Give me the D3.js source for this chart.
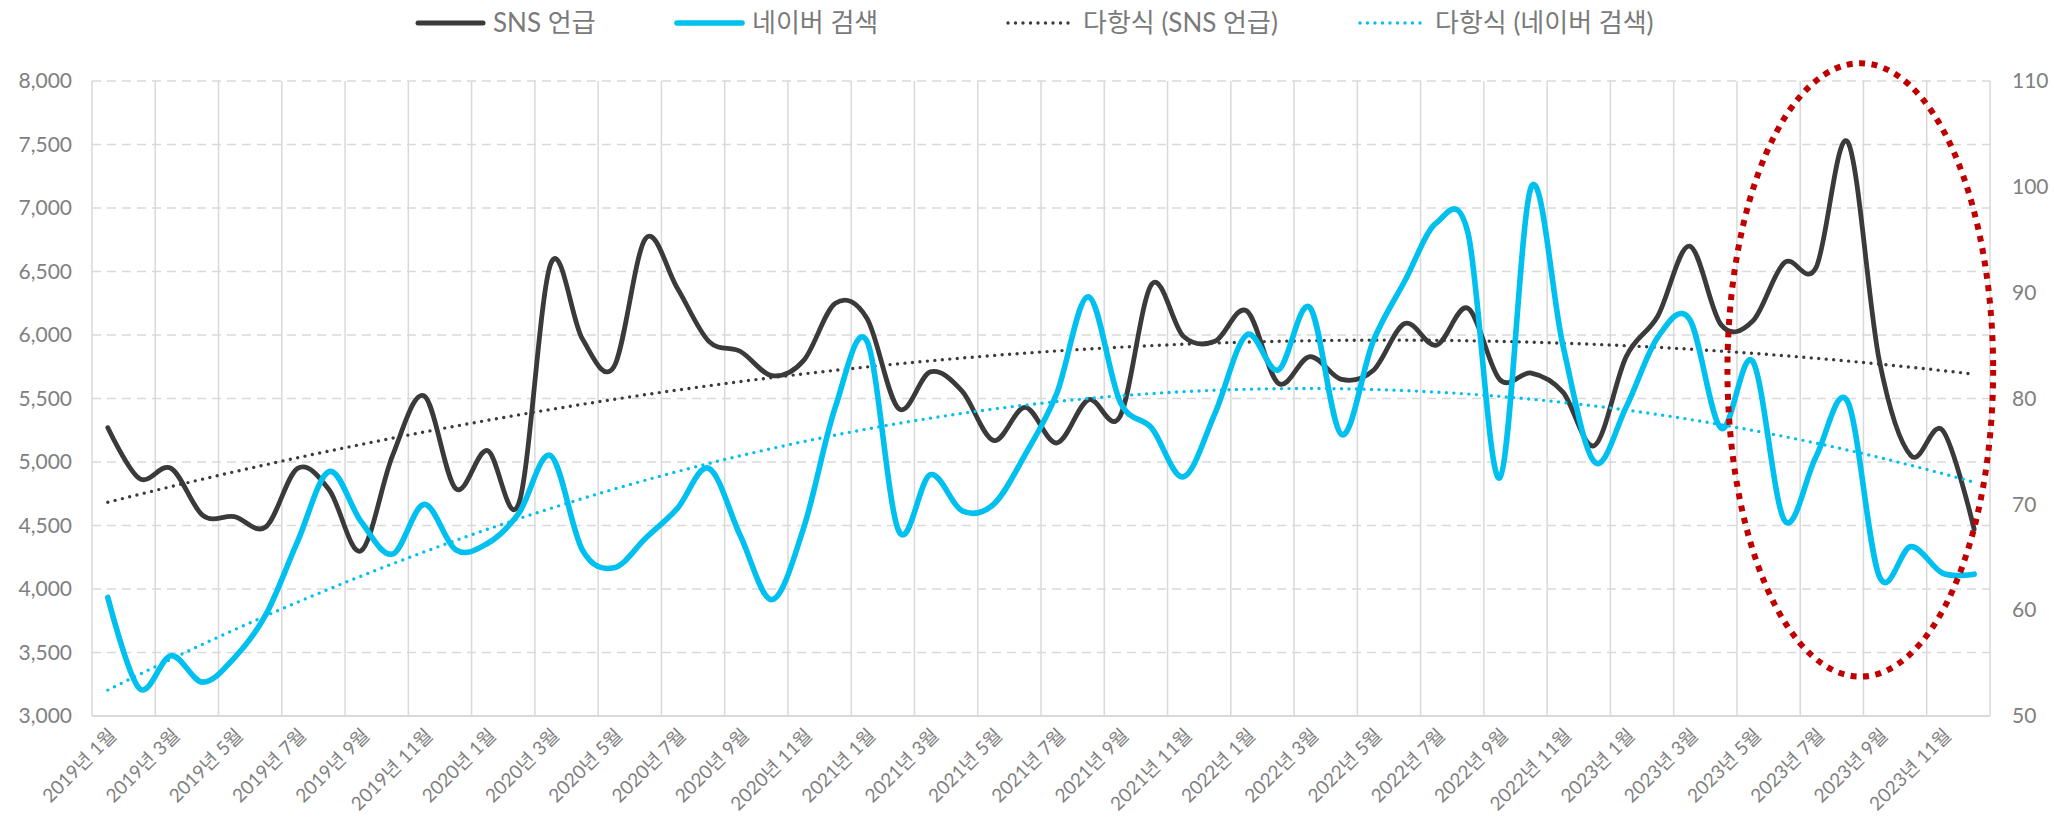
<!DOCTYPE html>
<html><head><meta charset="utf-8">
<script src="https://cdn.jsdelivr.net/npm/d3@7"></script>
<style>
body{margin:0;background:#fff}
svg{display:block;font-family:Lato,'Noto Sans CJK KR',sans-serif}
</style></head>
<body><svg id="c" width="2054" height="825"></svg>
<script>
// ---------- data ----------
const years = [2019, 2020, 2021, 2022, 2023];
const months = [1,2,3,4,5,6,7,8,9,10,11,12];
const categories = [];
years.forEach(y => months.forEach(m => categories.push(`${y}년 ${m}월`)));

const snsMentions = [5270,4870,4950,4580,4570,4490,4950,4780,4300,5050,
  5520,4790,5090,4680,6560,5970,5750,6760,6370,5950,
  5870,5680,5800,6250,6130,5420,5710,5560,5170,5430,
  5150,5490,5360,6400,5990,5950,6190,5620,5830,5650,
  5720,6090,5920,6210,5650,5700,5550,5130,5830,6150,
  6700,6080,6110,6570,6530,7520,5800,5050,5250,4470];

const naverSearch = [61.2,52.6,55.7,53.2,55.5,59.6,66.5,73.1,68.4,65.3,
  70.0,65.7,66.3,69.2,74.6,65.7,64.0,66.8,69.6,73.4,
  67.0,61.0,67.8,79.2,85.4,67.5,72.8,69.4,70.0,74.7,
  80.5,89.6,79.7,77.2,72.6,78.6,86.0,82.7,88.6,76.6,
  85.4,91.1,96.6,95.6,72.5,100.0,85.0,74.0,79.2,85.8,
  87.5,77.2,83.5,68.5,74.5,79.7,63.2,66.0,63.5,63.4];

const leftTicks = [3000,3500,4000,4500,5000,5500,6000,6500,7000,7500,8000];
const rightTicks = [50,60,70,80,90,100,110];
const seriesNames = ["SNS 언급", "네이버 검색", "다항식 (SNS 언급)", "다항식 (네이버 검색)"];
// annotation (highlight ellipse) in data space: category index span and left-axis value span
const highlightIdx = [51.2, 59.6];
const highlightVal = [3310, 8140];

// ---------- layout ----------
const L = 92, R = 1990, T = 81, B = 716;
const BLACK = "#3a3a3a", BLUE = "#00c0f0", GRID = "#d9d9d9", TXT = "#808080";

const svg = d3.select("#c");
svg.append("rect").attr("width",2054).attr("height",825).attr("fill","#fff");

const x = d3.scaleBand().domain(categories).range([L, R]).padding(0);
const bw = x.bandwidth();
const xc = d => x(d) + bw/2;
const xi = i => L + (i + 0.5) * bw;
const yL = d3.scaleLinear().domain([3000, 8000]).range([B, T]);
const yR = d3.scaleLinear().domain([50, 110]).range([B, T]);

// horizontal dashed gridlines
svg.append("g").selectAll("line").data(leftTicks.filter(d => d !== 3000)).join("line")
  .attr("x1", L).attr("x2", R).attr("y1", d => yL(d)).attr("y2", d => yL(d))
  .attr("stroke", GRID).attr("stroke-width", 1.5).attr("stroke-dasharray", "9 6");

// vertical gridlines every 2 categories
const vlines = categories.filter((d,i) => i % 2 === 0).map(d => x(d)).concat([R]);
svg.append("g").selectAll("line").data(vlines).join("line")
  .attr("x1", d => d).attr("x2", d => d).attr("y1", T).attr("y2", B)
  .attr("stroke", GRID).attr("stroke-width", 1.5);
// bottom axis line
svg.append("line").attr("x1", L).attr("x2", R).attr("y1", B).attr("y2", B)
  .attr("stroke", GRID).attr("stroke-width", 2);

// axes
const fmt = d3.format(",");
const gL = svg.append("g").attr("transform", `translate(${L},0)`)
  .call(d3.axisLeft(yL).tickValues(leftTicks).tickSize(0).tickPadding(20).tickFormat(fmt));
const gR = svg.append("g").attr("transform", `translate(${R},0)`)
  .call(d3.axisRight(yR).tickValues(rightTicks).tickSize(0).tickPadding(22));
const gX = svg.append("g").attr("transform", `translate(0,${B})`)
  .call(d3.axisBottom(x).tickValues(categories.filter((d,i) => i % 2 === 0)).tickSize(0));
[gL, gR, gX].forEach(g => {
  g.select(".domain").remove();
  g.selectAll("text").attr("fill", TXT).style("font-size", "21px")
    .style("font-family", "Lato,'Noto Sans CJK KR',sans-serif");
});
gX.selectAll("text").attr("x", 0).attr("y", 0).attr("dy", "0.35em")
  .attr("transform", "translate(5,16) rotate(-45)").style("text-anchor", "end")
  .style("font-size", "19px");

// trendline: polynomial (order 2) least squares
function polyfit(ys, deg) {
  const n = deg + 1;
  const A = Array.from({length: n}, () => new Array(n + 1).fill(0));
  ys.forEach((yv, k) => {
    const xv = k + 1;
    for (let r = 0; r < n; r++) {
      for (let c = 0; c < n; c++) A[r][c] += Math.pow(xv, r + c);
      A[r][n] += yv * Math.pow(xv, r);
    }
  });
  for (let i = 0; i < n; i++) {
    let p = i;
    for (let r = i + 1; r < n; r++) if (Math.abs(A[r][i]) > Math.abs(A[p][i])) p = r;
    [A[i], A[p]] = [A[p], A[i]];
    for (let r = 0; r < n; r++) if (r !== i) {
      const f = A[r][i] / A[i][i];
      for (let c = i; c <= n; c++) A[r][c] -= f * A[i][c];
    }
  }
  const coef = A.map((row, i) => row[n] / row[i]);
  return xv => coef.reduce((s, c, i) => s + c * Math.pow(xv, i), 0);
}
const samples = d3.range(0, categories.length - 1 + 0.001, 0.25);

const smooth = d3.curveCardinal.tension(0);

// SNS line
svg.append("path").datum(snsMentions)
  .attr("d", d3.line().x((d,i) => xc(categories[i])).y(d => yL(d)).curve(smooth))
  .attr("fill", "none").attr("stroke", BLACK).attr("stroke-width", 4.8)
  .attr("stroke-linejoin", "round").attr("stroke-linecap", "round");
// SNS trend
const fS = polyfit(snsMentions, 2);
svg.append("path").datum(samples)
  .attr("d", d3.line().x(t => xi(t)).y(t => yL(fS(t + 1))))
  .attr("fill", "none").attr("stroke", BLACK).attr("stroke-width", 3.4)
  .attr("stroke-linecap", "round").attr("stroke-dasharray", "0 7.5");

// Naver line
svg.append("path").datum(naverSearch)
  .attr("d", d3.line().x((d,i) => xc(categories[i])).y(d => yR(d)).curve(smooth))
  .attr("fill", "none").attr("stroke", BLUE).attr("stroke-width", 5.6)
  .attr("stroke-linejoin", "round").attr("stroke-linecap", "round");
// Naver trend
const fN = polyfit(naverSearch, 2);
svg.append("path").datum(samples)
  .attr("d", d3.line().x(t => xi(t)).y(t => yR(fN(t + 1))))
  .attr("fill", "none").attr("stroke", BLUE).attr("stroke-width", 3.4)
  .attr("stroke-linecap", "round").attr("stroke-dasharray", "0 7.5");

// highlight ellipse
const ex0 = xi(highlightIdx[0]), ex1 = xi(highlightIdx[1]);
const ey0 = yL(highlightVal[1]), ey1 = yL(highlightVal[0]);
svg.append("ellipse")
  .attr("cx", (ex0 + ex1) / 2).attr("cy", (ey0 + ey1) / 2)
  .attr("rx", (ex1 - ex0) / 2).attr("ry", (ey1 - ey0) / 2)
  .attr("fill", "none").attr("stroke", "#c00000").attr("stroke-width", 6)
  .attr("stroke-dasharray", "6 6.5");

// legend
const legX = [416, 675, 1006, 1358];
const legStyles = [
  {c: BLACK, w: 5, dash: null},
  {c: BLUE, w: 5.6, dash: null},
  {c: BLACK, w: 3.4, dash: "0 7.5"},
  {c: BLUE, w: 3.4, dash: "0 7.5"}
];
const leg = svg.append("g");
seriesNames.forEach((name, k) => {
  const s = legStyles[k];
  leg.append("line").attr("x1", legX[k] + 2).attr("x2", legX[k] + 67).attr("y1", 23).attr("y2", 23)
    .attr("stroke", s.c).attr("stroke-width", s.w).attr("stroke-linecap", "round")
    .attr("stroke-dasharray", s.dash);
  leg.append("text").attr("x", legX[k] + 77).attr("y", 23).attr("dy", "0.35em")
    .attr("fill", "#7a7a7a").style("font-size", "26px").text(name);
});
</script></body></html>
